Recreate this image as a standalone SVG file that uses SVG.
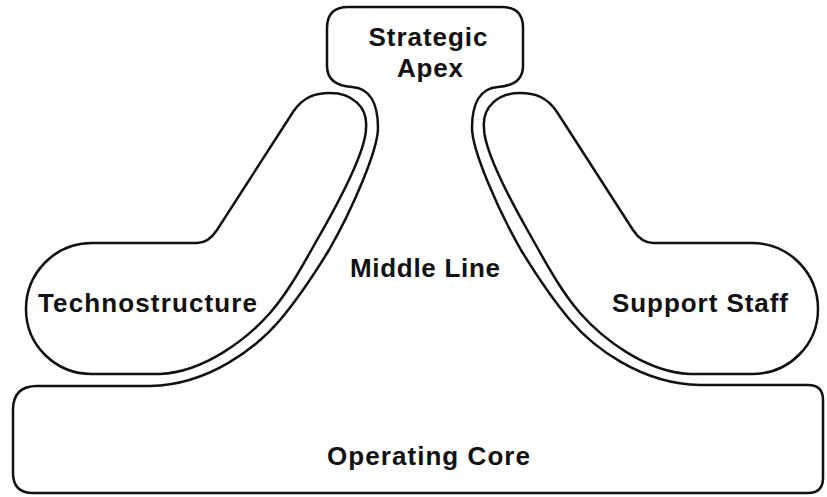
<svg xmlns="http://www.w3.org/2000/svg" width="827" height="497" viewBox="0 0 827 497">
<style>
.shape{fill:none;stroke:#111;stroke-width:2.5;stroke-linejoin:round;stroke-linecap:round}
.lbl{font-family:"Liberation Sans",Arial,sans-serif;font-weight:bold;font-size:26px;fill:#111}
</style>
<rect width="827" height="497" fill="#fff"/>
<g id="outline">
<path class="shape" d="M 13,410 Q 13,386 37,386 L 150,386 C 210,385 258,346 280,320 C 302,294 318,268 329,250 C 352,210 378,150 378,128 C 378,104 370,88 352,87 C 337,86 327,80 327,66 L 327,28 Q 327,7 348,7 L 502,7 Q 523,7 523,28 L 523,66 C 523,80 513,86 498,87 C 480,88 472,104 472,128 C 472,150 498,210 521,250 C 532,268 548,294 570,320 C 592,346 640,384 700,385 L 808,385 Q 823,385 823,400 L 823,478 Q 823,493 808,493 L 33,493 Q 13,493 13,473 Z"/>
</g>
<g id="strategic-apex">
<text class="lbl" x="428" y="46" text-anchor="middle" textLength="119">Strategic</text>
<text class="lbl" x="430" y="77" text-anchor="middle" textLength="66">Apex</text>
</g>
<g id="middle-line">
<text class="lbl" x="350" y="277" textLength="150">Middle Line</text>
</g>
<g id="technostructure">
<path class="shape" d="M 92,243 L 197,243 C 205,243 211,239 217,230 L 293,112 C 303,97 315,93 330,93 C 352,93 368,107 366,128 C 366,150 340,200 317,240 C 305,261 290,290 270,313 C 248,338 205,372 160,374 L 92,374 C 55,374 26,345 26,309 C 26,273 55,243 92,243 Z"/>
<text class="lbl" x="38" y="312" textLength="219">Technostructure</text>
</g>
<g id="support-staff">
<path class="shape" d="M 752,243 L 653,243 C 645,243 639,239 633,230 L 557,112 C 547,97 535,93 520,93 C 498,93 482,107 484,128 C 484,150 510,200 533,240 C 545,261 560,290 580,313 C 602,338 645,372 690,374 L 752,374 C 789,374 818,345 818,309 C 818,273 789,243 752,243 Z"/>
<text class="lbl" x="612" y="312" textLength="176">Support Staff</text>
</g>
<g id="operating-core">
<text class="lbl" x="327" y="465" textLength="203">Operating Core</text>
</g>
</svg>
